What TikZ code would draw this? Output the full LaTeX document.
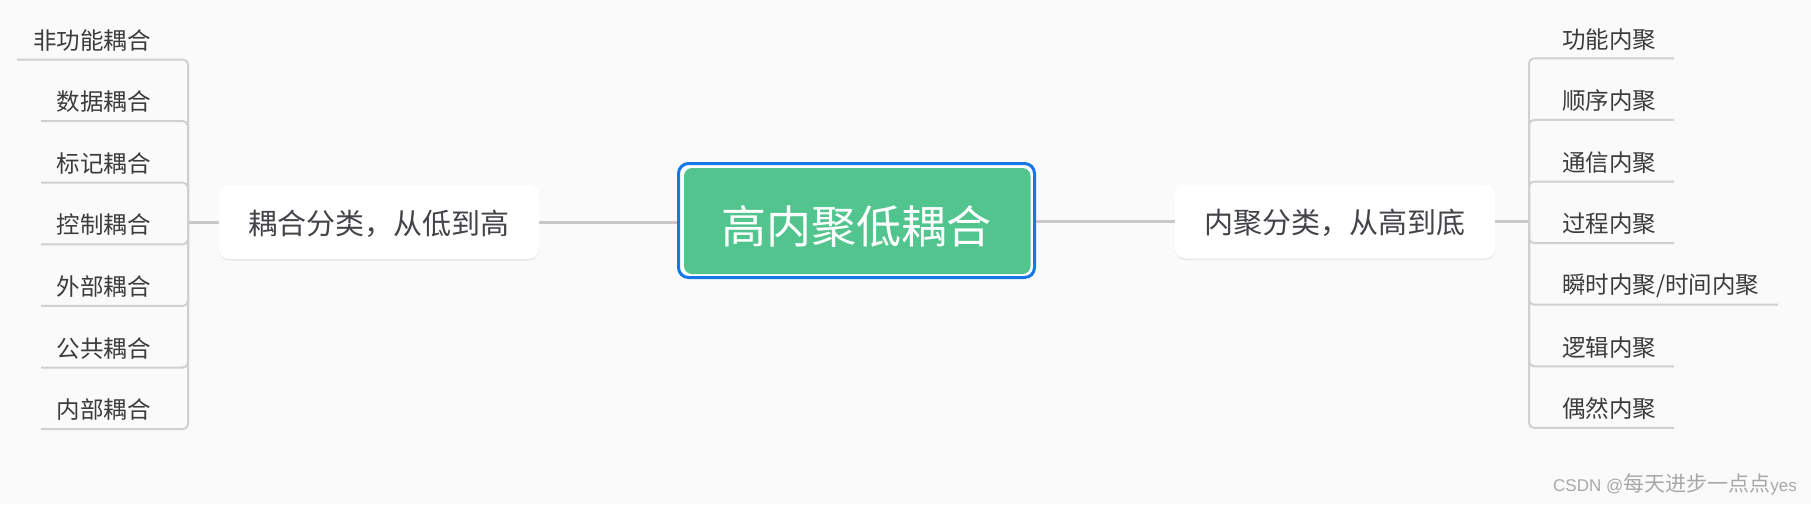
\documentclass[tikz,border=0pt]{standalone}
\usepackage{fontspec}
\setmainfont{Noto Sans CJK SC}
\newfontfamily\wmlatin{Liberation Sans}
\usetikzlibrary{shadows}
\definecolor{bgc}{RGB}{250,250,250}
\definecolor{rootgreen}{RGB}{82,196,141}
\definecolor{rootblue}{RGB}{22,119,230}
\definecolor{mainlinec}{RGB}{200,200,200}
\definecolor{leaflinec}{RGB}{208,208,208}
\definecolor{leaftxt}{RGB}{60,60,60}
\definecolor{branchtxt}{RGB}{66,68,72}
\definecolor{wmc}{RGB}{168,168,168}
\begin{document}
\begin{tikzpicture}[x=1pt,y=-1pt,
  leaf/.style={inner sep=0pt, text=leaftxt, font=\fontsize{23.5}{28}\selectfont},
  branchbox/.style={fill=white, rounded corners=10pt, minimum width=320pt, minimum height=74pt, inner sep=0pt,
    drop shadow={shadow xshift=0pt, shadow yshift=-1.5pt, opacity=0.08, fill=black}},
  branchtext/.style={inner sep=0pt, text=branchtxt, font=\fontsize{29}{34}\selectfont},
  rootframe/.style={draw=rootblue, line width=3pt, fill=white, rounded corners=10pt, minimum width=356pt, minimum height=114pt, inner sep=0pt},
  rootbox/.style={fill=rootgreen, rounded corners=8pt, minimum width=346.5pt, minimum height=106pt, inner sep=0pt},
  roottext/.style={inner sep=0pt, text=white, font=\fontsize{45}{52}\selectfont},
  mainline/.style={draw=mainlinec, line width=3pt},
  leafline/.style={draw=leaflinec, line width=2pt, rounded corners=5pt},
  wmtext/.style={inner sep=0pt, text=wmc}
]
\useasboundingbox[fill=bgc] (0,0) rectangle (1811,504);

% root
\node[rootframe] (rootf) at (856.5,220.5) {};
\node[rootbox] (root) at (857.25,221) {};
\node[roottext] (rootlabel) at (856.5,226.5) {高内聚低耦合};

% branches
\node[branchbox] (lbox) at (378.8,222) {};
\node[branchtext] (ltext) at (378.5,223.5) {耦合分类，从低到高};
\node[branchbox] (rbox) at (1335,221.5) {};
\node[branchtext] (rtext) at (1335.4,223) {内聚分类，从高到底};

% junctions
\coordinate (lj) at (188,222);
\coordinate (rj) at (1529,221.5);

\draw[mainline] (lbox.east) -- (lbox.east -| rootf.west);
\draw[mainline] (rbox.west) -- (rbox.west -| rootf.east);
\draw[mainline] (lbox.west) -- (lj);
\draw[mainline] (rbox.east) -- (rj);

% left leaves
\foreach \i/\t/\xe in {0/非功能耦合/17, 1/数据耦合/41, 2/标记耦合/41, 3/控制耦合/41, 4/外部耦合/41, 5/公共耦合/41, 6/内部耦合/41}{
  \pgfmathsetmacro{\yy}{59.5+61.6*\i}
  \coordinate (le\i) at (\xe,\yy);
  \draw[leafline] (lj) |- (le\i);
  \node[leaf, anchor=east] (l\i) at (151,\yy-19.3) {\t};
}

% right leaves
\foreach \i/\t/\xe in {0/功能内聚/1674, 1/顺序内聚/1674, 2/通信内聚/1674, 3/过程内聚/1674, 4/{瞬时内聚/时间内聚}/1778, 5/逻辑内聚/1674, 6/偶然内聚/1674}{
  \pgfmathsetmacro{\yy}{58.3+61.6*\i}
  \coordinate (re\i) at (\xe,\yy);
  \draw[leafline] (rj) |- (re\i);
  \node[leaf, anchor=west] (r\i) at (1562,\yy-19) {\t};
}

% watermark
\node[wmtext, anchor=east] (wm) at (1797,484) {{\wmlatin\fontsize{17}{20}\selectfont CSDN @}{\fontsize{21}{24}\selectfont 每天进步一点点}{\wmlatin\fontsize{17}{20}\selectfont yes}};
\end{tikzpicture}
\end{document}
